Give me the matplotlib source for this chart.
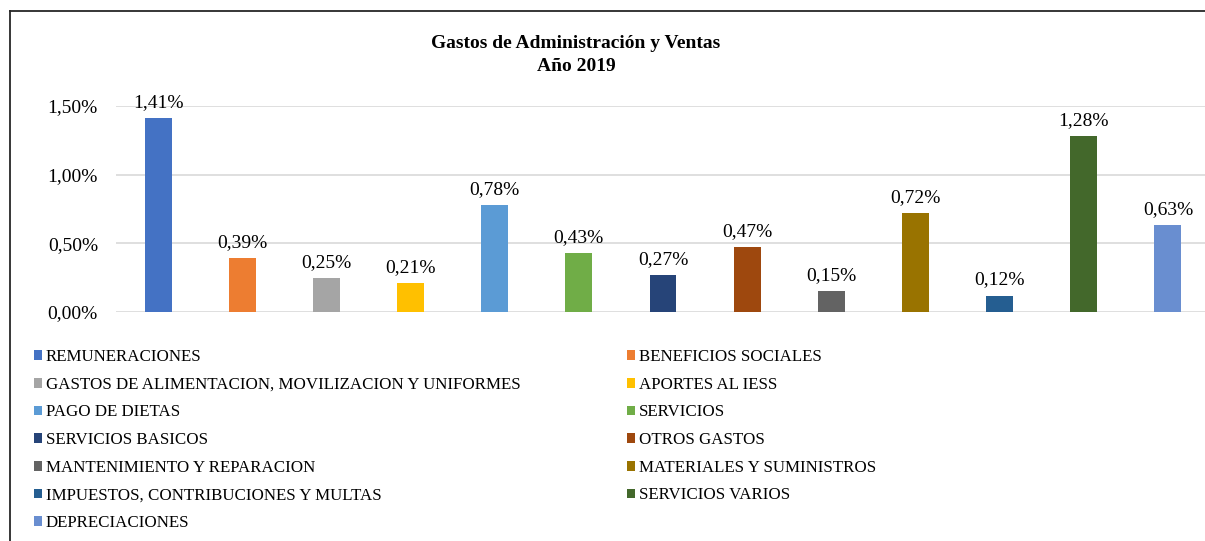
import matplotlib
matplotlib.use("Agg")
import matplotlib.pyplot as plt
from matplotlib.patches import Patch
from matplotlib.lines import Line2D

categories = [
    "REMUNERACIONES",
    "BENEFICIOS SOCIALES",
    "GASTOS DE ALIMENTACION, MOVILIZACION Y UNIFORMES",
    "APORTES AL IESS",
    "PAGO DE DIETAS",
    "SERVICIOS",
    "SERVICIOS BASICOS",
    "OTROS GASTOS",
    "MANTENIMIENTO Y REPARACION",
    "MATERIALES Y SUMINISTROS",
    "IMPUESTOS, CONTRIBUCIONES Y MULTAS",
    "SERVICIOS VARIOS",
    "DEPRECIACIONES",
]
values = [1.41, 0.39, 0.25, 0.21, 0.78, 0.43, 0.27, 0.47, 0.15, 0.72, 0.12, 1.28, 0.63]
colors = ["#4472C4", "#ED7D31", "#A5A5A5", "#FFC000", "#5B9BD5", "#70AD47",
          "#264478", "#9E480E", "#636363", "#997300", "#255E91", "#43682B", "#698ED0"]
yticks = [0.0, 0.5, 1.0, 1.5]
title = "Gastos de Administración y Ventas\nAño 2019"

plt.rcParams["font.family"] = ["Liberation Serif", "DejaVu Serif"]

W, H = 1205, 541
fig = plt.figure(figsize=(W / 100, H / 100), dpi=100)
ax = fig.add_axes([116 / W, (H - 312) / H, 1094 / W, 206 / H])

x = list(range(len(values)))
bars = ax.bar(x, values, width=0.32, color=colors, zorder=3)
ax.set_xlim(-0.5, len(values) - 0.5)
ax.set_ylim(0, 1.5)
ax.set_yticks(yticks)
ax.set_yticklabels([f"{t:.2f}%".replace(".", ",") for t in yticks], fontsize=14)
ax.set_xticks([])
ax.tick_params(axis="y", length=0, pad=13)
ax.grid(axis="y", color="#D9D9D9", linewidth=1.2, zorder=0)
for s in ax.spines.values():
    s.set_visible(False)

for xi, v in zip(x, values):
    ax.annotate(f"{v:.2f}%".replace(".", ","), (xi, v), xytext=(0, 5),
                textcoords="offset points", ha="center", va="bottom", fontsize=14)

fig.text(576 / W, 1 - 35 / H, title, ha="center", va="top", fontsize=14,
         fontweight="bold", linespacing=1.45)

handles = [Patch(facecolor=c, edgecolor="none", label=l) for c, l in zip(colors, categories)]
left_h = handles[0::2]
right_h = handles[1::2]
common = dict(loc="upper left", frameon=False, fontsize=12.2, handlelength=0.5,
              handleheight=0.5, handletextpad=0.18, labelspacing=0.69, borderpad=0,
              borderaxespad=0)
fig.legend(handles=left_h, bbox_to_anchor=(34 / W, 1 - 349 / H), **common)
fig.legend(handles=right_h, bbox_to_anchor=(627 / W, 1 - 349 / H), **common)

# outer frame (partially visible)
fig.add_artist(Line2D([10 / W, 10 / W], [0, 1 - 11 / H], transform=fig.transFigure,
                      color="#262626", linewidth=1.3))
fig.add_artist(Line2D([10 / W, 1], [1 - 11 / H, 1 - 11 / H], transform=fig.transFigure,
                      color="#262626", linewidth=1.3))

fig.savefig("out.png", dpi=100)
